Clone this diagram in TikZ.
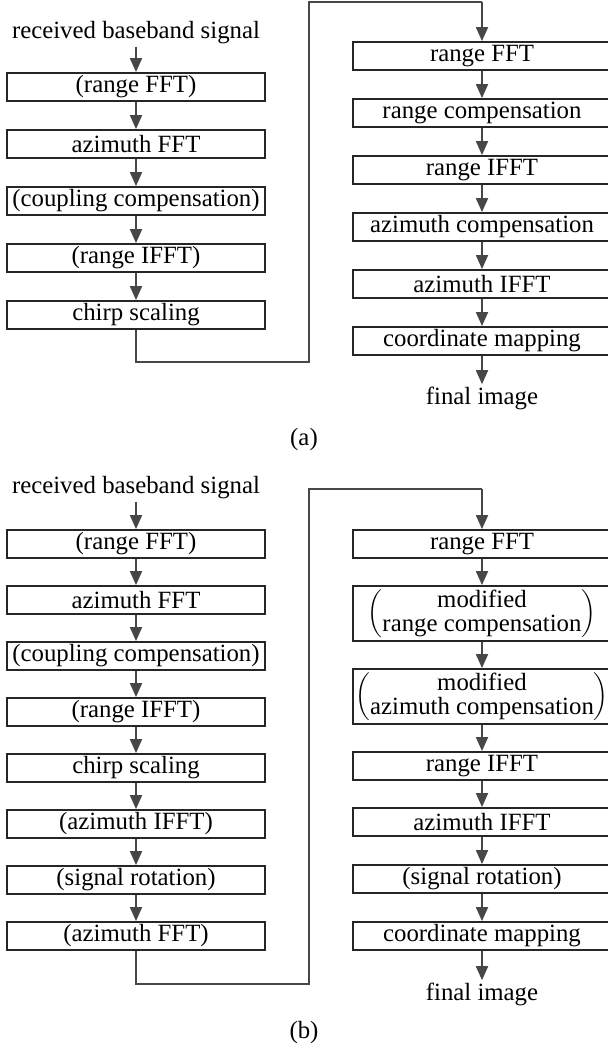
\documentclass[tikz,border=0pt]{standalone}
\usepackage{fontspec}
\setmainfont{Liberation Serif}
\usetikzlibrary{arrows.meta}

\tikzset{
  bloc/.style={draw=black!85, line width=0.9pt, minimum width=129pt, minimum height=14pt, inner sep=0pt},
  texte/.style={inner sep=1pt},
  fleche/.style={-{Triangle[length=7pt,width=6pt]}, draw=black!72, line width=0.9pt},
  liaison/.style={draw=black!72, line width=0.8pt}
}
\newcommand\doublig[2]{$\left(\vcenter{\hbox{\begin{tabular}{@{}c@{}}#1\\[-2pt]#2\end{tabular}}}\right)$}

\begin{document}
\begin{tikzpicture}[x=0.5pt, y=-0.5pt, font=\fontsize{12.4}{14}\selectfont]
  \clip (0,0) rectangle (608,1050);

  % (a) colonne de gauche
  \node[texte] (g0) at (136,33) {received baseband signal};
  \foreach \y/\t [count=\i] in {87/{(range FFT)}, 144/{azimuth FFT}, 201/{(coupling compensation)}, 258/{(range IFFT)}, 315/{chirp scaling}}
    \node[bloc] (g\i) at (136,\y) {\t};
  \foreach \i [remember=\i as \k (initially 0)] in {1,...,5}
    \draw[fleche] (g\k.south) -- (g\i.north);

  % (a) colonne de droite
  \foreach \y/\t [count=\i] in {56/{range FFT}, 113/{range compensation}, 170/{range IFFT}, 227/{azimuth compensation}, 284/{azimuth IFFT}, 341/{coordinate mapping}}
    \node[bloc] (d\i) at (482,\y) {\t};
  \node[texte] (d7) at (482,398) {final image};
  \foreach \i [remember=\i as \k (initially 1)] in {2,...,7}
    \draw[fleche] (d\k.south) -- (d\i.north);

  % (a) liaison
  \coordinate (ca1) at (309,362);
  \coordinate (ca2) at (482,2);
  \draw[liaison] (g5.south) |- (ca1) |- (ca2);
  \draw[fleche] (ca2) -- (d1.north);
  \node (la) at (304,440) {(a)};

  % (b) colonne de gauche
  \node[texte] (h0) at (136,488) {received baseband signal};
  \foreach \y/\t [count=\i] in {544/{(range FFT)}, 600/{azimuth FFT}, 656/{(coupling compensation)}, 712/{(range IFFT)}, 768/{chirp scaling}, 824/{(azimuth IFFT)}, 880/{(signal rotation)}, 936/{(azimuth FFT)}}
    \node[bloc] (h\i) at (136,\y) {\t};
  \foreach \i [remember=\i as \k (initially 0)] in {1,...,8}
    \draw[fleche] (h\k.south) -- (h\i.north);

  % (b) colonne de droite
  \node[bloc] (e1) at (482,544) {range FFT};
  \node[bloc, minimum height=27.5pt] (e2) at (482,613.5) {\doublig{modified}{range compensation}};
  \node[bloc, minimum height=27.5pt] (e3) at (482,696.5) {\doublig{modified}{azimuth compensation}};
  \node[bloc] (e4) at (482,766) {range IFFT};
  \node[bloc] (e5) at (482,822) {azimuth IFFT};
  \node[bloc] (e6) at (482,879) {(signal rotation)};
  \node[bloc] (e7) at (482,936) {coordinate mapping};
  \node[texte] (e8) at (482,994) {final image};
  \foreach \i [remember=\i as \k (initially 1)] in {2,...,8}
    \draw[fleche] (e\k.south) -- (e\i.north);

  % (b) liaison
  \coordinate (cb1) at (309,984);
  \coordinate (cb2) at (482,489);
  \draw[liaison] (h8.south) |- (cb1) |- (cb2);
  \draw[fleche] (cb2) -- (e1.north);
  \node (lb) at (304,1033) {(b)};
\end{tikzpicture}
\end{document}
